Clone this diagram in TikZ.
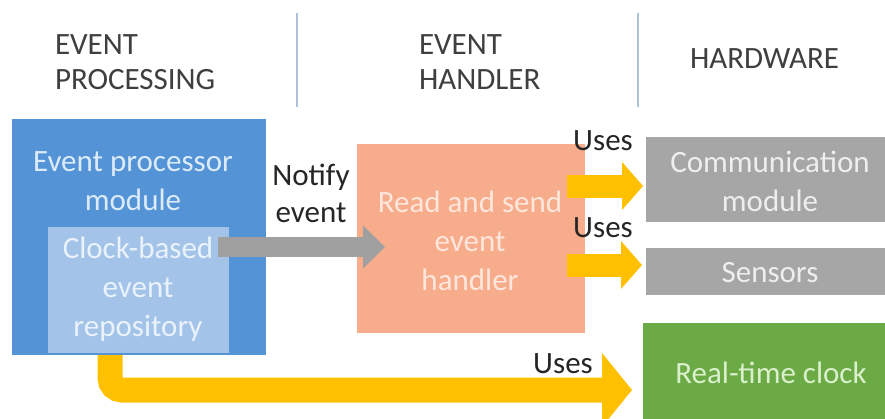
\documentclass[tikz,border=0pt]{standalone}
\usepackage{fontspec}
\setmainfont{Carlito}
\usetikzlibrary{arrows.meta,calc}
\definecolor{blueC}{HTML}{5494D6}
\definecolor{blueT}{HTML}{DDEBF8}
\definecolor{repoC}{HTML}{A3C3E9}
\definecolor{repoT}{HTML}{EAF2FB}
\definecolor{salmonC}{HTML}{F7AC8C}
\definecolor{salmonT}{HTML}{FDE7DC}
\definecolor{grayC}{HTML}{A6A6A6}
\definecolor{grayT}{HTML}{EEEEEE}
\definecolor{greenC}{HTML}{6BAA45}
\definecolor{greenT}{HTML}{DAF0CC}
\definecolor{yellowC}{HTML}{FFC000}
\definecolor{arrowG}{HTML}{A0A0A0}
\definecolor{headT}{HTML}{3F3F3F}
\definecolor{lblT}{HTML}{262626}
\definecolor{divC}{HTML}{AFC2DA}
\begin{document}
\begin{tikzpicture}[x=1pt,y=-1pt,
  box/.style={inner sep=0pt, outer sep=0pt, draw=none},
  txt/.style={inner sep=0pt, outer sep=0pt, align=center, font=\fontsize{31}{39}\selectfont},
  head/.style={inner sep=0pt, outer sep=0pt, align=left, text=headT, font=\fontsize{31}{35}\selectfont},
  lbl/.style={inner sep=0pt, outer sep=0pt, text=lblT, font=\fontsize{31}{37}\selectfont, align=center},
  divider/.style={draw=divC, line width=1.6pt},
  usesarrow/.style={draw=yellowC, line width=23pt, -{Triangle[length=21pt,width=48pt,line width=0pt]}},
  bigarrow/.style={draw=yellowC, line width=25pt, rounded corners=12pt, -{Triangle[length=30pt,width=74pt,line width=0pt]}},
  grayarrow/.style={draw=arrowG, line width=20pt, -{Triangle[length=22pt,width=43pt,line width=0pt]}}
]
\useasboundingbox (0,0) rectangle (885,418);
\fill[white] (0,0) rectangle (885,418);

% headers
\node[head, anchor=north west] (h1) at (55,35) {EVENT\\PROCESSING};
\node[head, anchor=north west] (h2) at (419,35) {EVENT\\HANDLER};
\node[head, anchor=base west] (h3) at (690,68) {HARDWARE};
\draw[divider] (297,13) -- (297,107);
\draw[divider] (638,13) -- (638,107);

% boxes
\node[box, fill=blueC, minimum width=254pt, minimum height=236pt] (proc) at (139,237) {};
\node[box, fill=repoC, minimum width=181pt, minimum height=126pt] (repo) at (138.5,290) {};
\node[box, fill=salmonC, minimum width=228pt, minimum height=189pt] (handler) at (471,238.5) {};
\node[box, fill=grayC, minimum width=250pt, minimum height=85pt] (comm) at (771,179.5) {};
\node[box, fill=grayC, minimum width=250pt, minimum height=47pt] (sens) at (771,271.5) {};
\node[box, fill=greenC, minimum width=252pt, minimum height=107pt] (clock) at (769,376.5) {};

% box texts
\node[txt, text=blueT, anchor=north] (proct) at (133,152) {Event processor\\module};
\node[txt, text=repoT, anchor=north] (repot) at (138,237) {Clock-based\\event\\repository};
\node[txt, text=salmonT, anchor=north] (handt) at (470,191) {Read and send\\event\\handler};
\node[txt, text=grayT, anchor=north] (commt) at (770,151) {Communication\\module};
\node[txt, text=grayT, anchor=base] (senst) at (770,282) {Sensors};
\node[txt, text=greenT, anchor=base] (clockt) at (771,383) {Real-time clock};

% connectors
\draw[grayarrow] ($(repo.east)+(-11,-43)$) -- ($(handler.west)+(28,8.5)$);
\draw[usesarrow] ($(handler.east)+(-18,-52.5)$) -- ($(comm.west)+(-3,6.5)$);
\draw[usesarrow] ($(handler.east)+(-18,26.5)$) -- ($(sens.west)+(-4,-6.5)$);
\draw[bigarrow] ($(proc.south)+(-29,0)$) |- ($(clock.west)+(-11,13.5)$);

% labels
\node[lbl, anchor=north] (notify) at (311,164) {Notify\\event};
\node[lbl, anchor=base] (u1) at (603,150) {Uses};
\node[lbl, anchor=base] (u2) at (603,237) {Uses};
\node[lbl, anchor=base] (u3) at (563,373) {Uses};
\end{tikzpicture}
\end{document}
